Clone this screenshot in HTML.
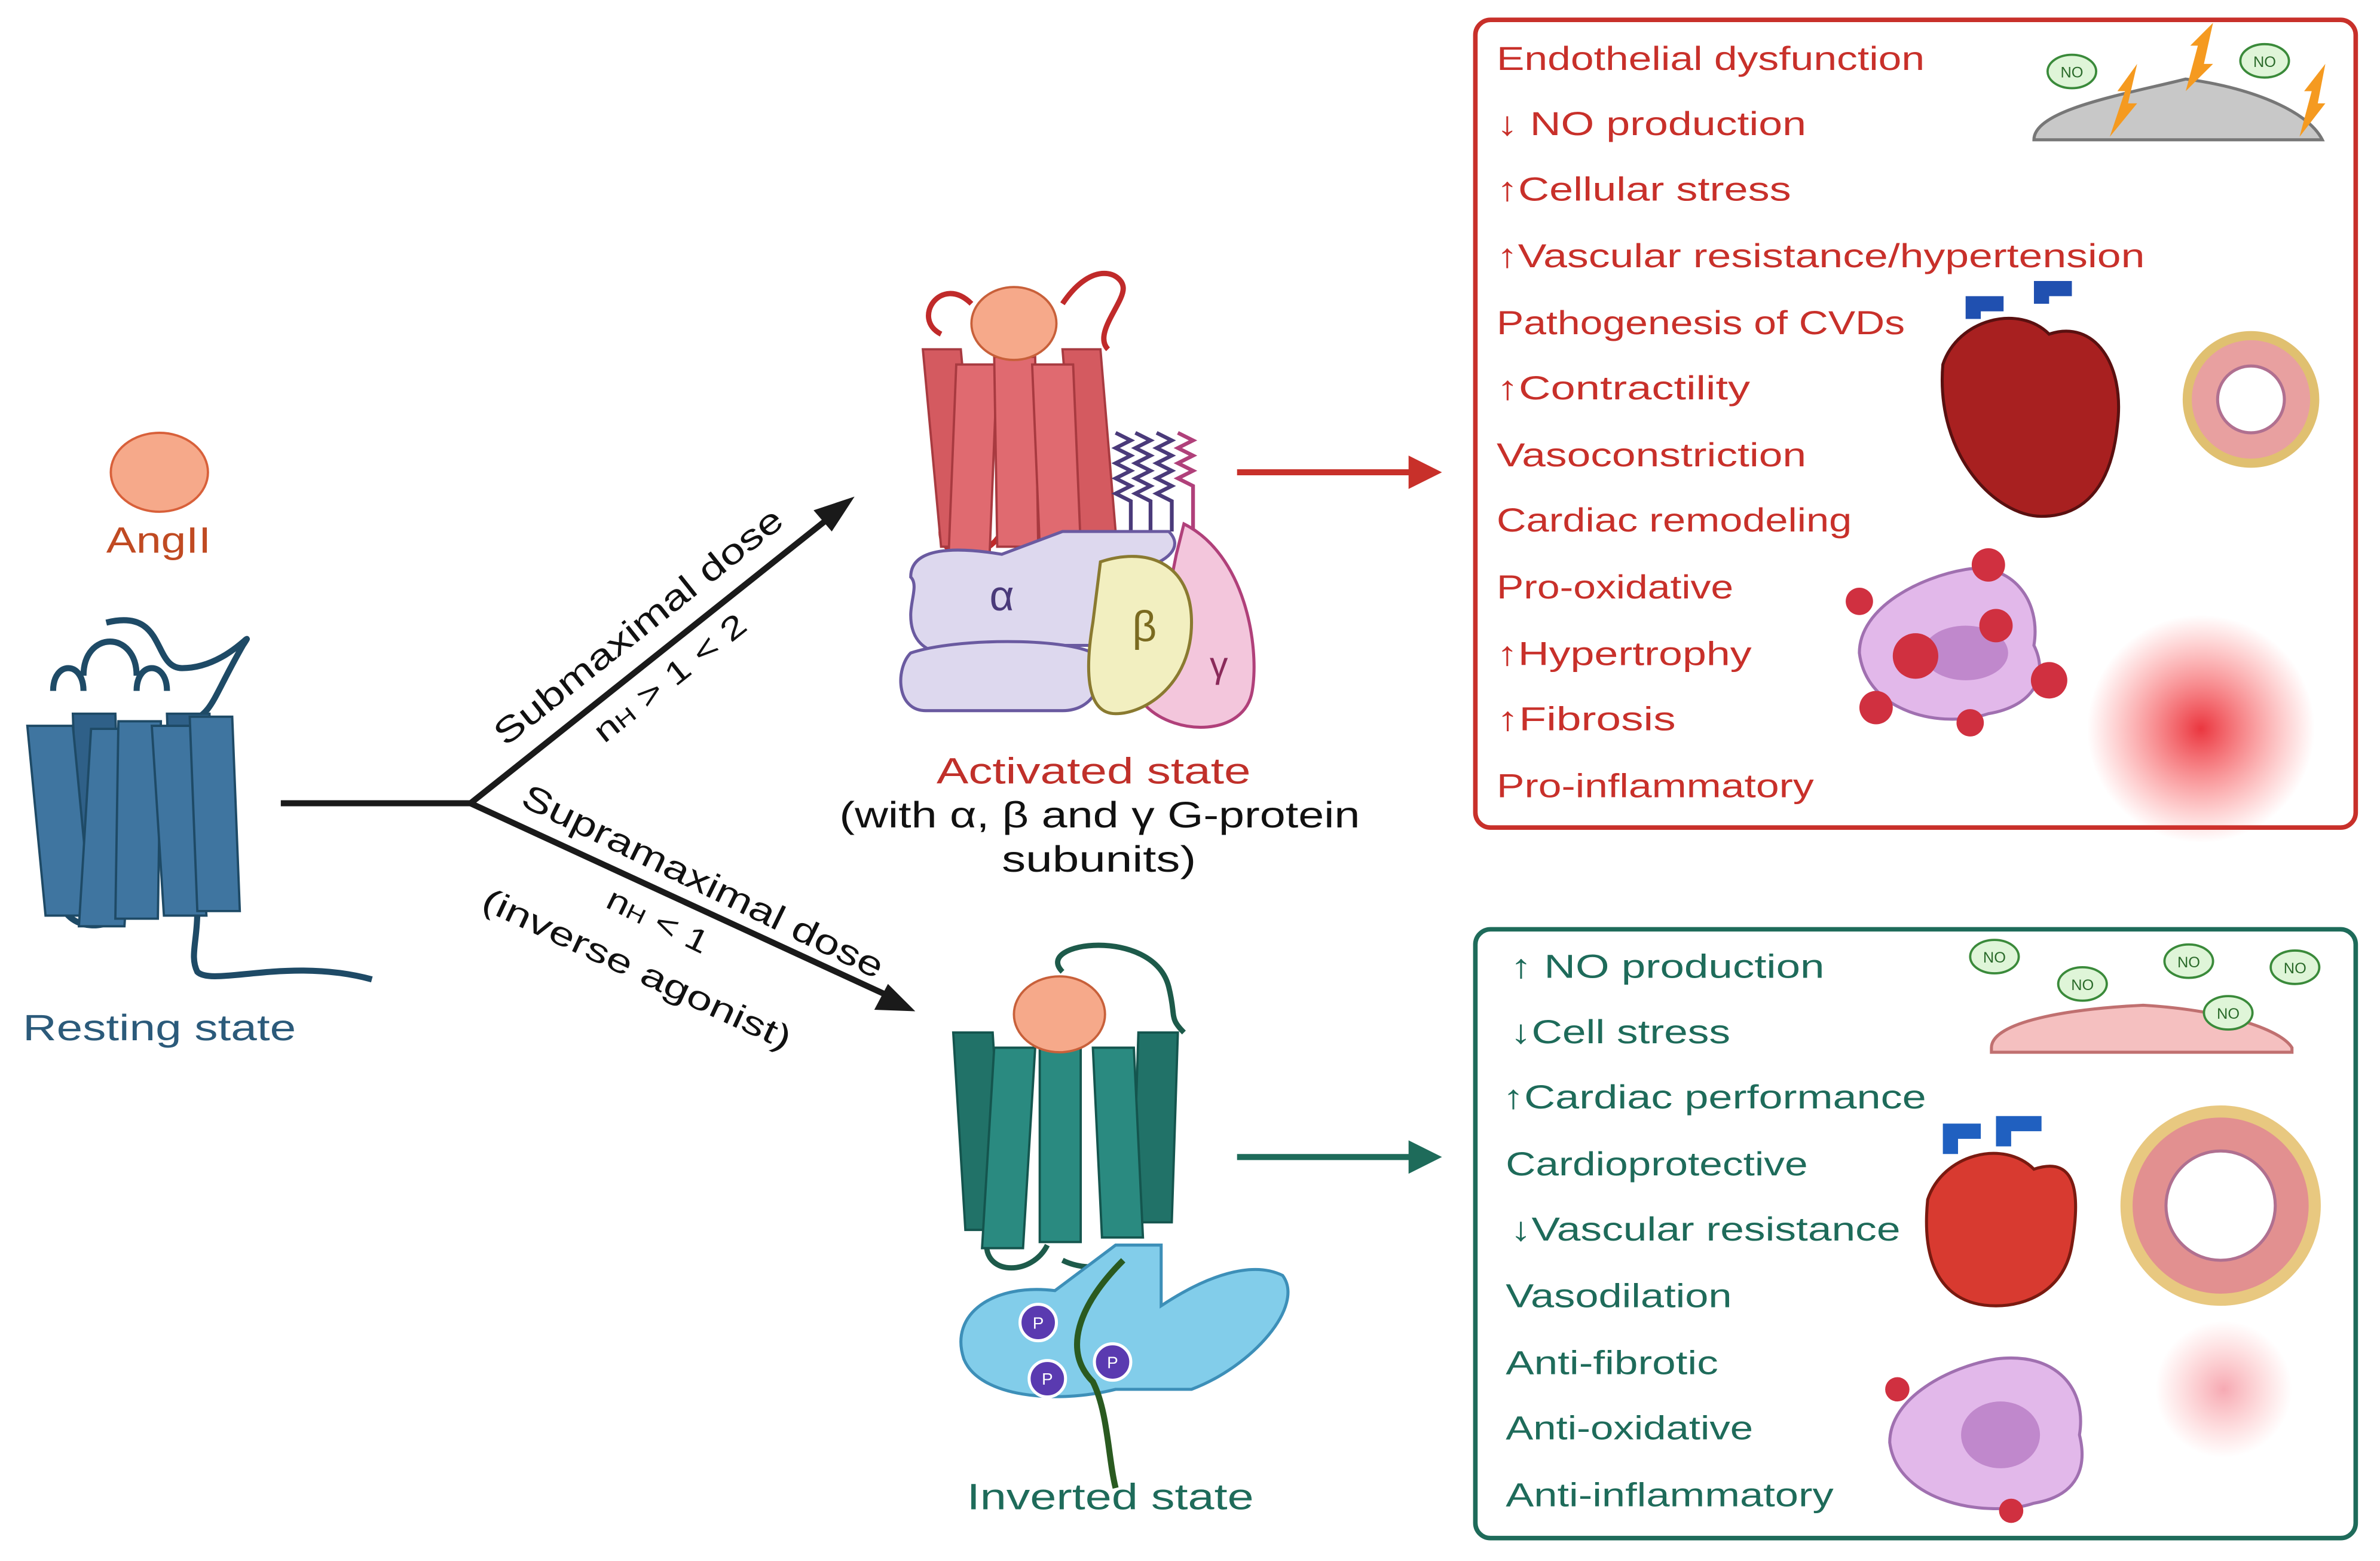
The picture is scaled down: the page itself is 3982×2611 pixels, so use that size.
<!DOCTYPE html>
<html><head><meta charset="utf-8"><style>html,body{margin:0;padding:0;background:#fff}svg{display:block}</style></head><body>
<svg width="3982" height="2611" viewBox="0 0 1568 1028" xmlns="http://www.w3.org/2000/svg" font-family="Liberation Sans, DejaVu Sans, sans-serif">
<defs>
<radialGradient id="rg"><stop offset="0" stop-color="#e8202a" stop-opacity="0.9"/><stop offset="1" stop-color="#ff4040" stop-opacity="0"/></radialGradient>
<radialGradient id="rg2"><stop offset="0" stop-color="#f07080" stop-opacity="0.6"/><stop offset="1" stop-color="#ff8080" stop-opacity="0"/></radialGradient>
</defs>
<rect width="1568" height="1028" fill="#fff"/>
<ellipse cx="105" cy="311" rx="32" ry="26" fill="#f6a98a" stroke="#d8603a" stroke-width="1.5"/>
<text x="70" y="364" font-size="24" fill="#c04a22" textLength="69" lengthAdjust="spacingAndGlyphs">AngII</text>
<g stroke="#1e4a66" stroke-width="4" fill="none">
<path d="M70 410 C110 400 100 440 120 440 C150 440 170 410 160 425 C140 460 140 470 125 475"/>
<path d="M35 455 c0 -20 20 -20 20 0 M55 445 c0 -30 35 -30 35 0 M90 455 c0 -20 20 -20 20 0"/>
<path d="M130 600 c0 20 -5 30 0 40 c10 10 60 -10 115 5"/>
<path d="M40 590 c0 25 40 25 40 5"/>
</g>
<g fill="#3f75a0" stroke="#1e4a66" stroke-width="1.5">
<path d="M48 470 h28 l4 120 h-28z" fill="#2f6088"/>
<path d="M110 470 h28 l4 120 h-28z" fill="#2f6088"/>
<path d="M18 478 h30 l12 125 h-30z"/>
<path d="M60 480 h30 l-8 130 h-30z"/>
<path d="M78 475 h28 l-2 130 h-28z"/>
<path d="M100 478 h28 l8 125 h-28z"/>
<path d="M125 472 h28 l5 128 h-28z"/>
</g>
<text x="15" y="685" font-size="24" fill="#2b5a7a" textLength="180" lengthAdjust="spacingAndGlyphs">Resting state</text>
<g stroke="#1a1a1a" stroke-width="4" fill="none">
<path d="M185 529 H310 L550 338"/>
<path d="M310 529 L590 658"/>
</g>
<polygon points="563,327 548,350 536,336" fill="#1a1a1a"/>
<polygon points="603,666 576,665 585,648" fill="#1a1a1a"/>
<text font-size="23" fill="#111" transform="translate(333,492) rotate(-38.5)" textLength="236" lengthAdjust="spacingAndGlyphs">Submaximal dose</text>
<text font-size="21" fill="#111" transform="translate(398,490) rotate(-38.5)" textLength="122" lengthAdjust="spacingAndGlyphs">n<tspan font-size="14">H</tspan> &gt; 1 &lt; 2</text>
<text font-size="23" fill="#111" transform="translate(342,530) rotate(26)" textLength="262" lengthAdjust="spacingAndGlyphs">Supramaximal dose</text>
<text font-size="21" fill="#111" transform="translate(398,597) rotate(26)" textLength="72" lengthAdjust="spacingAndGlyphs">n<tspan font-size="14">H</tspan> &lt; 1</text>
<text font-size="22" fill="#111" transform="translate(316,598) rotate(25)" textLength="222" lengthAdjust="spacingAndGlyphs">(inverse agonist)</text>
<g stroke="#c02a2a" stroke-width="3.5" fill="none">
<path d="M640 200 c-20 -20 -40 10 -20 20 M700 200 c20 -30 40 -20 40 -10 c0 10 -20 30 -10 40 M620 350 c0 20 30 20 40 0 M700 350 c10 30 30 20 40 40 c-20 20 10 30 30 10"/>
</g>
<g fill="#e06a70" stroke="#a83a40" stroke-width="1.5">
<path d="M608 230 h25 l12 130 h-25z" fill="#d45a60"/>
<path d="M700 230 h25 l10 120 h-25z" fill="#d45a60"/>
<path d="M630 240 h27 l-5 125 h-27z"/>
<path d="M655 235 h27 l2 125 h-27z"/>
<path d="M680 240 h27 l5 120 h-27z"/>
</g>
<ellipse cx="668" cy="213" rx="28" ry="24" fill="#f6a98a" stroke="#c8603a" stroke-width="1.5"/>
<g stroke="#4a3a7a" stroke-width="2.5" fill="none">
<path d="M735 285 l10 5 l-10 5 l10 5 l-10 5 l10 5 l-10 5 l10 5 l-10 5 l10 5 v20"/>
<path d="M748 285 l10 5 l-10 5 l10 5 l-10 5 l10 5 l-10 5 l10 5 l-10 5 l10 5 v20"/>
<path d="M762 285 l10 5 l-10 5 l10 5 l-10 5 l10 5 l-10 5 l10 5 l-10 5 l10 5 v20"/>
</g>
<path d="M776 285 l10 5 l-10 5 l10 5 l-10 5 l10 5 l-10 5 l10 5 v30" stroke="#b0407a" stroke-width="2.5" fill="none"/>
<path d="M780 345 c40 20 50 80 45 110 c-5 30 -50 30 -70 10 l20 -100z" fill="#f3c6dc" stroke="#b0407a" stroke-width="2"/>
<path d="M600 380 c0 -20 30 -20 60 -15 l40 -15 l70 0 c10 10 0 20 -20 25 c20 20 20 40 0 50 l-90 0 c-30 10 -60 10 -60 -20 c0 -10 5 -20 0 -25z" fill="#ddd8ee" stroke="#6a5aa0" stroke-width="2"/>
<path d="M600 430 c30 -10 100 -10 120 0 c10 20 0 38 -20 38 h-90 c-20 0 -20 -28 -10 -38z" fill="#ddd8ee" stroke="#6a5aa0" stroke-width="2"/>
<text x="660" y="402" font-size="28" fill="#4a3a7a" text-anchor="middle">α</text>
<path d="M725 370 c30 -10 60 0 60 40 c0 40 -30 60 -50 60 c-20 0 -20 -30 -15 -60z" fill="#f2efc0" stroke="#8a7a30" stroke-width="2"/>
<text x="754" y="422" font-size="28" fill="#7a6a20" text-anchor="middle">β</text>
<text x="803" y="446" font-size="24" fill="#8a2a5a" text-anchor="middle">γ</text>
<text x="617" y="516" font-size="24" fill="#c0302a" textLength="207" lengthAdjust="spacingAndGlyphs">Activated state</text>
<text x="553" y="545" font-size="24" fill="#111" textLength="343" lengthAdjust="spacingAndGlyphs">(with α, β and γ G-protein</text>
<text x="660" y="574" font-size="24" fill="#111" textLength="128" lengthAdjust="spacingAndGlyphs">subunits)</text>
<g stroke="#1d5a4a" stroke-width="3.5" fill="none">
<path d="M700 640 c-20 -20 60 -30 70 10 c5 20 0 20 10 30 M650 820 c0 20 30 20 40 0 M700 830 c20 10 40 0 60 0"/>
</g>
<g fill="#2a8a80" stroke="#14554e" stroke-width="1.5">
<path d="M628 680 h26 l8 130 h-26z" fill="#217268"/>
<path d="M750 680 h26 l-4 125 h-26z" fill="#217268"/>
<path d="M655 690 h27 l-8 132 h-27z"/>
<path d="M685 688 h27 l0 130 h-27z"/>
<path d="M720 690 h27 l6 125 h-27z"/>
</g>
<ellipse cx="698" cy="668" rx="30" ry="25" fill="#f6a98a" stroke="#c8603a" stroke-width="1.5"/>
<path d="M735 820 h30 v40 c30 -20 60 -30 80 -20 c15 20 -20 60 -60 75 l-50 0 c-40 10 -90 5 -100 -20 c-10 -30 20 -50 60 -45z" fill="#82cdea" stroke="#3d8fb8" stroke-width="2"/>
<path d="M740 830 c-30 30 -40 60 -20 80 c10 20 10 50 15 70" stroke="#2a5a20" stroke-width="4" fill="none"/>
<g fill="#5a3ab0" stroke="#fff" stroke-width="2"><circle cx="684" cy="871" r="12"/><circle cx="733" cy="897" r="12"/><circle cx="690" cy="908" r="12"/></g>
<g font-size="11" fill="#fff" text-anchor="middle"><text x="684" y="875">P</text><text x="733" y="901">P</text><text x="690" y="912">P</text></g>
<text x="637" y="994" font-size="24" fill="#1e6b5a" textLength="189" lengthAdjust="spacingAndGlyphs">Inverted state</text>
<path d="M815 311 H930" stroke="#c8302a" stroke-width="4"/><polygon points="950,311 928,300 928,322" fill="#c8302a"/>
<path d="M815 762 H930" stroke="#1e6b5a" stroke-width="4"/><polygon points="950,762 928,751 928,773" fill="#1e6b5a"/>
<rect x="972" y="13" width="580" height="532" rx="10" fill="#fff" stroke="#c8302a" stroke-width="3"/>
<g font-size="22" fill="#c8302a">
<text x="986" y="46" textLength="282" lengthAdjust="spacingAndGlyphs">Endothelial dysfunction</text>
<text x="986" y="89" textLength="204" lengthAdjust="spacingAndGlyphs">↓ NO production</text>
<text x="986" y="132" textLength="194" lengthAdjust="spacingAndGlyphs">↑Cellular stress</text>
<text x="986" y="176" textLength="427" lengthAdjust="spacingAndGlyphs">↑Vascular resistance/hypertension</text>
<text x="986" y="220" textLength="269" lengthAdjust="spacingAndGlyphs">Pathogenesis of CVDs</text>
<text x="986" y="263" textLength="167" lengthAdjust="spacingAndGlyphs">↑Contractility</text>
<text x="986" y="307" textLength="204" lengthAdjust="spacingAndGlyphs">Vasoconstriction</text>
<text x="986" y="350" textLength="234" lengthAdjust="spacingAndGlyphs">Cardiac remodeling</text>
<text x="986" y="394" textLength="156" lengthAdjust="spacingAndGlyphs">Pro-oxidative</text>
<text x="986" y="438" textLength="168" lengthAdjust="spacingAndGlyphs">↑Hypertrophy</text>
<text x="986" y="481" textLength="118" lengthAdjust="spacingAndGlyphs">↑Fibrosis</text>
<text x="986" y="525" textLength="209" lengthAdjust="spacingAndGlyphs">Pro-inflammatory</text>
</g>
<path d="M1340 92 c0 -20 60 -30 100 -40 c40 5 80 20 90 40z" fill="#c8c8c8" stroke="#777" stroke-width="2"/>
<g fill="#f59a20"><polygon points="1390,90 1400,60 1395,60 1408,42 1402,68 1408,68"/><polygon points="1440,60 1448,30 1443,30 1458,15 1452,42 1458,42"/><polygon points="1515,90 1523,60 1518,60 1532,42 1527,68 1532,68"/></g>
<g fill="#dff5d8" stroke="#3a8a3a" stroke-width="1.5"><ellipse cx="1365" cy="47" rx="16" ry="11"/><ellipse cx="1492" cy="40" rx="16" ry="11"/></g>
<g font-size="10" fill="#2a6a2a" text-anchor="middle"><text x="1365" y="51">NO</text><text x="1492" y="44">NO</text></g>
<path d="M1280 240 c10 -30 50 -40 70 -20 c30 -10 50 20 45 60 c-5 50 -30 60 -50 60 c-30 0 -70 -40 -65 -100z" fill="#a82020" stroke="#5a1010" stroke-width="2"/>
<path d="M1300 210 v-10 h20 M1345 200 v-10 h20" stroke="#2050b0" stroke-width="10" fill="none"/>
<circle cx="1483" cy="263" r="42" fill="#e8a0a0" stroke="#e0c070" stroke-width="6"/><circle cx="1483" cy="263" r="22" fill="#fff" stroke="#b07090" stroke-width="2"/>
<path d="M1225 430 c0 -30 40 -50 70 -55 c30 -5 50 20 45 50 c10 20 0 40 -30 45 c-30 10 -80 0 -85 -40z" fill="#e2b8ea" stroke="#a070b0" stroke-width="2"/>
<ellipse cx="1295" cy="430" rx="28" ry="18" fill="#c088cc"/>
<g fill="#d03040"><circle cx="1225" cy="396" r="9"/><circle cx="1310" cy="372" r="11"/><circle cx="1262" cy="432" r="15"/><circle cx="1315" cy="412" r="11"/><circle cx="1350" cy="448" r="12"/><circle cx="1236" cy="466" r="11"/><circle cx="1298" cy="476" r="9"/></g>
<circle cx="1450" cy="480" r="75" fill="url(#rg)"/>
<rect x="972" y="612" width="580" height="401" rx="10" fill="#fff" stroke="#1e6b5a" stroke-width="3"/>
<g font-size="22" fill="#1e6b5a">
<text x="995" y="644" textLength="207" lengthAdjust="spacingAndGlyphs">↑ NO  production</text>
<text x="995" y="687" textLength="145" lengthAdjust="spacingAndGlyphs">↓Cell stress</text>
<text x="990" y="730" textLength="279" lengthAdjust="spacingAndGlyphs">↑Cardiac performance</text>
<text x="992" y="774" textLength="199" lengthAdjust="spacingAndGlyphs">Cardioprotective</text>
<text x="995" y="817" textLength="257" lengthAdjust="spacingAndGlyphs">↓Vascular resistance</text>
<text x="992" y="861" textLength="149" lengthAdjust="spacingAndGlyphs">Vasodilation</text>
<text x="992" y="905" textLength="140" lengthAdjust="spacingAndGlyphs">Anti-fibrotic</text>
<text x="992" y="948" textLength="163" lengthAdjust="spacingAndGlyphs">Anti-oxidative</text>
<text x="992" y="992" textLength="216" lengthAdjust="spacingAndGlyphs">Anti-inflammatory</text>
</g>
<path d="M1312 690 c0 -15 40 -25 100 -28 c50 3 90 15 98 28 v3 h-198z" fill="#f5c0c0" stroke="#c07070" stroke-width="2"/>
<g fill="#dff5d8" stroke="#3a8a3a" stroke-width="1.5"><ellipse cx="1314" cy="630" rx="16" ry="11"/><ellipse cx="1372" cy="648" rx="16" ry="11"/><ellipse cx="1442" cy="633" rx="16" ry="11"/><ellipse cx="1468" cy="667" rx="16" ry="11"/><ellipse cx="1512" cy="637" rx="16" ry="11"/></g>
<g font-size="10" fill="#2a6a2a" text-anchor="middle"><text x="1314" y="634">NO</text><text x="1372" y="652">NO</text><text x="1442" y="637">NO</text><text x="1468" y="671">NO</text><text x="1512" y="641">NO</text></g>
<path d="M1270 790 c10 -30 50 -40 70 -20 c30 -10 30 20 25 50 c-5 30 -30 40 -50 40 c-30 0 -50 -20 -45 -70z" fill="#d83a30" stroke="#7a1a10" stroke-width="2"/>
<path d="M1285 760 v-15 h20 M1320 755 v-15 h25" stroke="#2060c0" stroke-width="10" fill="none"/>
<circle cx="1463" cy="794" r="62" fill="#e29090" stroke="#e8c880" stroke-width="8"/><circle cx="1463" cy="794" r="36" fill="#fff" stroke="#b07090" stroke-width="2"/>
<path d="M1245 950 c0 -30 40 -50 70 -55 c40 -5 60 20 55 50 c5 20 0 40 -30 45 c-30 10 -90 0 -95 -40z" fill="#e2b8ea" stroke="#a070b0" stroke-width="2"/>
<ellipse cx="1318" cy="945" rx="26" ry="22" fill="#c088cc"/>
<g fill="#d03040"><circle cx="1250" cy="915" r="8"/><circle cx="1325" cy="995" r="8"/></g>
<circle cx="1465" cy="915" r="45" fill="url(#rg2)"/>
</svg>
</body></html>
